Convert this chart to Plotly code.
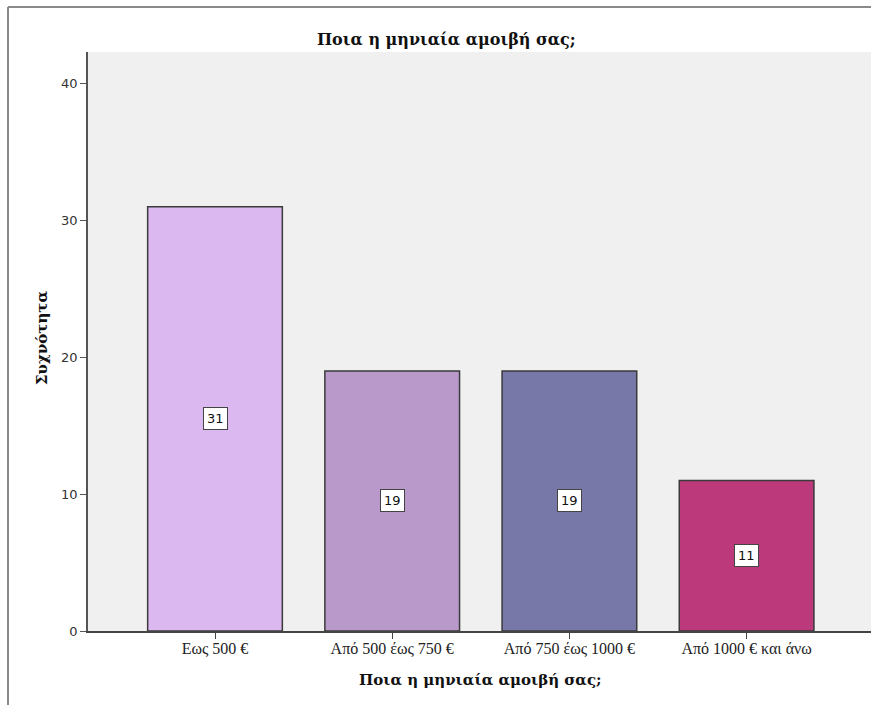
import plotly.graph_objects as go

categories = ["Εως 500 €", "Από 500 έως 750 €", "Από 750 έως 1000 €", "Από 1000 € και άνω"]
counts = [31, 19, 19, 11]
bar_colors = ["#DCB8F0", "#B899C9", "#7878A8", "#BC3A7C"]
y_ticks = [0, 10, 20, 30, 40]
title_text = "Ποια η μηνιαία αμοιβή σας;"
y_title = "Συχνότητα"

W, H = 871, 705
L, R, T, B = 88, 0, 52, 74
pw, ph = W - L - R, H - T - B

def px_x(p):
    return (p - L) / pw

def px_y(p):
    return (H - B - p) / ph

x_idx = list(range(len(categories)))

fig = go.Figure()
fig.add_trace(go.Bar(
    x=x_idx, y=counts, width=0.76,
    marker=dict(color=bar_colors, line=dict(color="#3a3a3a", width=1.5)),
    hoverinfo="skip",
))

annotations = []
for i, v in zip(x_idx, counts):
    annotations.append(dict(
        x=i, y=v / 2, xref="x", yref="y", text=str(v), showarrow=False,
        font=dict(family="DejaVu Sans", size=13, color="#111"),
        bgcolor="white", bordercolor="#444", borderwidth=1, borderpad=3,
    ))

serif = "DejaVu Serif"
annotations.append(dict(x=px_x(446), y=px_y(40), xref="paper", yref="paper",
                        text="<b>" + title_text + "</b>", showarrow=False,
                        font=dict(family=serif, size=16, color="#111"),
                        xanchor="center", yanchor="middle"))
annotations.append(dict(x=px_x(480), y=px_y(680), xref="paper", yref="paper",
                        text="<b>" + title_text + "</b>", showarrow=False,
                        font=dict(family=serif, size=15, color="#111"),
                        xanchor="center", yanchor="middle"))
annotations.append(dict(x=px_x(42), y=px_y(338), xref="paper", yref="paper",
                        text="<b>" + y_title + "</b>", showarrow=False, textangle=-90,
                        font=dict(family=serif, size=15, color="#111"),
                        xanchor="center", yanchor="middle"))

shapes = [
    dict(type="line", xref="paper", yref="paper", x0=px_x(8), x1=px_x(W + 5),
         y0=px_y(7), y1=px_y(7), line=dict(color="#8a8a8a", width=2)),
    dict(type="line", xref="paper", yref="paper", x0=px_x(8), x1=px_x(8),
         y0=px_y(7), y1=px_y(H + 5), line=dict(color="#8a8a8a", width=2)),
]

fig.update_layout(
    width=W, height=H,
    margin=dict(l=L, r=R, t=T, b=B, pad=0),
    paper_bgcolor="white", plot_bgcolor="#F0F0F0",
    showlegend=False,
    annotations=annotations,
    shapes=shapes,
    xaxis=dict(
        range=[-0.7167, 3.702], tickmode="array", tickvals=x_idx, ticktext=categories,
        showline=True, linecolor="#444", linewidth=1.5, ticks="outside", ticklen=6,
        tickcolor="#444", showgrid=False, zeroline=False, ticklabelstandoff=-4,
        tickfont=dict(family="Liberation Serif", size=16, color="#222"),
    ),
    yaxis=dict(
        range=[0, 42.3], tickmode="array", tickvals=y_ticks,
        showline=True, linecolor="#555", linewidth=1.5, ticks="outside", ticklen=6,
        tickcolor="#555", showgrid=False, zeroline=False,
        tickfont=dict(family="DejaVu Sans", size=13, color="#333"),
    ),
)

fig.write_html(
    "out.html",
    config={"displayModeBar": False},
    post_script="document.body.style.margin='0';document.body.style.overflow='hidden';",
)
